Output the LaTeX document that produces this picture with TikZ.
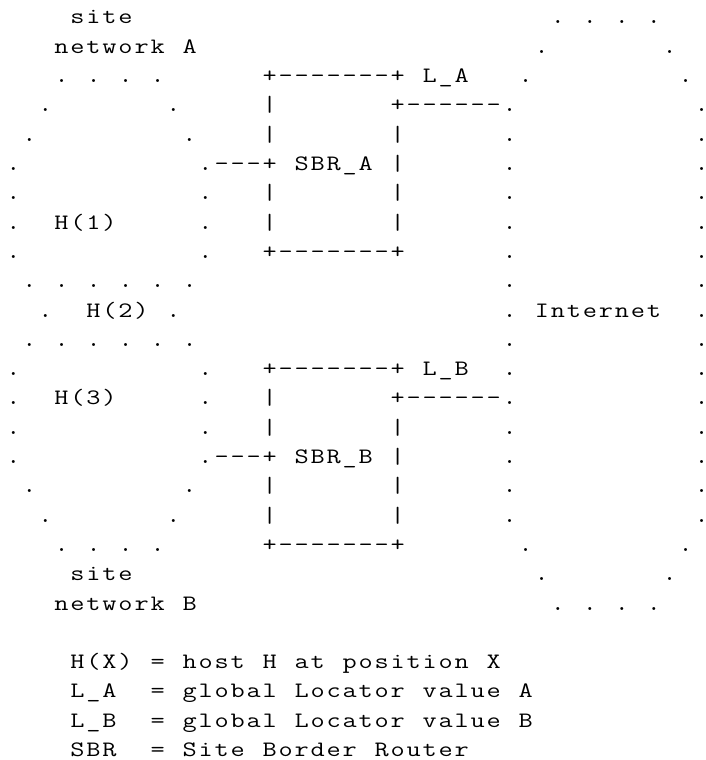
\documentclass[tikz,border=0pt]{standalone}
\usepackage{tikz}
\usepackage{graphicx}
\newcommand\bigdot{{\bfseries.}}
\ExplSyntaxOn
\NewDocumentCommand \asc { m }
  {
    \str_map_inline:nn {#1}
      { \makebox[16.01pt][c]{ \str_if_eq:nnTF {##1} {.} {\bigdot} {\scalebox{1.25}[1]{##1}} } }
  }
\ExplSyntaxOff

\begin{document}
\begin{tikzpicture}[x=16.01pt,y=-29.3pt,
        mono/.style={inner sep=0pt,font=\ttfamily\fontsize{22}{26}\selectfont},
        txt/.style={mono,anchor=base west,xshift=-8.005pt},
        dot/.style={mono,anchor=base}]
        \useasboundingbox (-13.3pt,-5.3pt) rectangle (691.7pt,-765.3pt);
        \node[txt] (siteA) at (4,1) {\asc{site}};
        \node[txt] (netA) at (3,2) {\asc{network A}};
        \node[txt] (topA) at (3,3) {\asc{. . . .}};
        \node[txt] (midA) at (1,10) {\asc{. . . . . .}};
        \node[txt] (midB) at (1,12) {\asc{. . . . . .}};
        \node[txt] (botB) at (3,19) {\asc{. . . .}};
        \node[txt] (siteB) at (4,20) {\asc{site}};
        \node[txt] (netB) at (3,21) {\asc{network B}};
        \foreach \c/\r [count=\i] in {2/4,10/4,1/5,11/5,2/11,10/11,1/17,11/17,2/18,10/18}
          \node[dot] (edge\i) at (\c,\r) {\makebox[4pt]{\bigdot}};
        \foreach \r in {6,7,8,9,13,14,15,16} {
          \node[dot] (left\r) at (0,\r) {\makebox[4pt]{\bigdot}};
          \node[dot] (right\r) at (12,\r) {\makebox[4pt]{\bigdot}};
        }
        \node[txt] (h1) at (3,8) {\asc{H(1)}};
        \node[txt] (h2) at (5,11) {\asc{H(2)}};
        \node[txt] (h3) at (3,14) {\asc{H(3)}};
        \node[txt] (topSA) at (16,3) {\asc{+-------+ L_A}};
        \node[txt] (linkA) at (24,4) {\asc{+------}};
        \node[txt] (sbrA) at (13,6) {\asc{---+ SBR_A |}};
        \node[txt] (botSA) at (16,9) {\asc{+-------+}};
        \node[txt] (topSB) at (16,13) {\asc{+-------+ L_B}};
        \node[txt] (linkB) at (24,14) {\asc{+------}};
        \node[txt] (sbrB) at (13,16) {\asc{---+ SBR_B |}};
        \node[txt] (botSB) at (16,19) {\asc{+-------+}};
        \foreach \r in {4,5,7,8,14,15,17,18}
          \node[txt] (wl\r) at (16,\r) {\asc{|}};
        \foreach \r in {5,7,8,15,17,18}
          \node[txt] (wr\r) at (24,\r) {\asc{|}};
        \node[txt] (inTop) at (34,1) {\asc{. . . .}};
        \node[txt] (inBot) at (34,21) {\asc{. . . .}};
        \foreach \c/\r [count=\i] in {33/2,41/2,32/3,42/3,32/19,42/19,33/20,41/20}
          \node[dot] (arc\i) at (\c,\r) {\makebox[4pt]{\bigdot}};
        \foreach \r in {4,...,18} {
          \node[dot] (inL\r) at (31,\r) {\makebox[4pt]{\bigdot}};
          \node[dot] (inR\r) at (43,\r) {\makebox[4pt]{\bigdot}};
        }
        \node[txt] (inet) at (33,11) {\asc{Internet}};
        \node[txt] (keyH) at (4,23) {\asc{H(X) = host H at position X}};
        \node[txt] (keyLA) at (4,24) {\asc{L_A}};
        \node[txt] (valLA) at (9,24) {\asc{= global Locator value A}};
        \node[txt] (keyLB) at (4,25) {\asc{L_B}};
        \node[txt] (valLB) at (9,25) {\asc{= global Locator value B}};
        \node[txt] (keyS) at (4,26) {\asc{SBR}};
        \node[txt] (valS) at (9,26) {\asc{= Site Border Router}};
\end{tikzpicture}
\end{document}
